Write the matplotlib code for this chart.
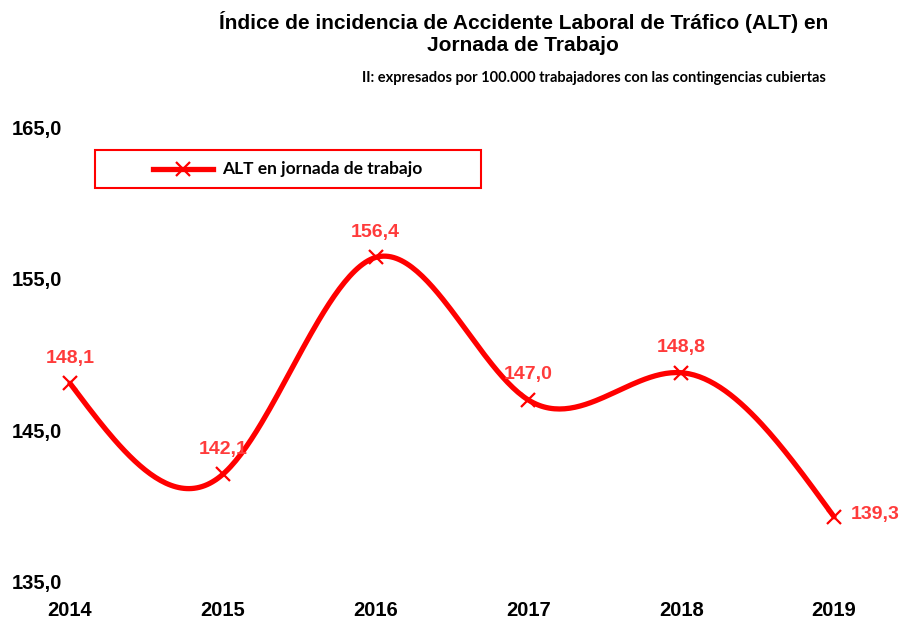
import numpy as np
import matplotlib.pyplot as plt
from matplotlib.lines import Line2D
from matplotlib.patches import Rectangle

years = ['2014', '2015', '2016', '2017', '2018', '2019']
alt = [148.1, 142.1, 156.4, 147.0, 148.8, 139.3]
yticks = [135, 145, 155, 165]

red = '#FF0000'
label_red = '#FF3B3B'


def natural_spline(xs, ys, n=60):
    # natural cubic spline through the points (second derivative 0 at the ends)
    xs = np.asarray(xs, float)
    ys = np.asarray(ys, float)
    k = len(xs)
    h = np.diff(xs)
    A = np.zeros((k, k))
    b = np.zeros(k)
    A[0, 0] = A[-1, -1] = 1
    for i in range(1, k - 1):
        A[i, i - 1] = h[i - 1]
        A[i, i] = 2 * (h[i - 1] + h[i])
        A[i, i + 1] = h[i]
        b[i] = 6 * ((ys[i + 1] - ys[i]) / h[i] - (ys[i] - ys[i - 1]) / h[i - 1])
    M = np.linalg.solve(A, b)
    outx, outy = [], []
    for i in range(k - 1):
        t = np.linspace(0, 1, n)
        a, c = 1 - t, t
        yy = (a * ys[i] + c * ys[i + 1]
              + ((a ** 3 - a) * M[i] + (c ** 3 - c) * M[i + 1]) * h[i] ** 2 / 6)
        outx.extend(xs[i] + t * h[i])
        outy.extend(yy)
    return outx, outy


def fmt(v):
    return f'{v:.1f}'.replace('.', ',')


plt.rcParams['font.family'] = ['Liberation Sans', 'DejaVu Sans']

fig = plt.figure(figsize=(9.02, 6.21), dpi=100)
ax = fig.add_axes([70 / 902, 39 / 621, 764 / 902, 455 / 621])

x = np.arange(len(years))
sx, sy = natural_spline(x, alt)
ax.plot(sx, sy, color=red, lw=3.8, solid_capstyle='round', clip_on=False, zorder=2)
ax.plot(x, alt, ls='none', marker='x', ms=10, mew=1.6, color=red, clip_on=False, zorder=3)

# value labels
for xi, v in zip(x[:-1], alt[:-1]):
    ax.annotate(fmt(v), (xi, v), xytext=(0, 12), textcoords='offset points',
                ha='center', va='bottom', color=label_red, fontsize=14, fontweight='bold')
ax.annotate(fmt(alt[-1]), (x[-1], alt[-1]), xytext=(12, 2), textcoords='offset points',
            ha='left', va='center', color=label_red, fontsize=14, fontweight='bold')

ax.set_xlim(0, 5)
ax.set_ylim(135, 165)
ax.set_yticks(yticks)
ax.set_yticklabels([fmt(v) for v in yticks], fontsize=14.5, fontweight='bold')
ax.set_xticks(x)
ax.set_xticklabels(years, fontsize=14.5, fontweight='bold')
ax.tick_params(axis='both', length=0)
ax.tick_params(axis='y', pad=6)
ax.tick_params(axis='x', pad=14)
for s in ax.spines.values():
    s.set_visible(False)

fig.text(0.58, 0.983, 'Índice de incidencia de Accidente Laboral de Tráfico (ALT) en\nJornada de Trabajo',
         ha='center', va='top', fontsize=15, fontweight='bold', linespacing=1.2)
fig.text(0.916, 0.874, 'II: expresados por 100.000 trabajadores con las contingencias cubiertas',
         ha='right', va='center', fontsize=10.5, fontweight='bold', family=['Lato', 'DejaVu Sans'])

# legend box
fig.add_artist(Rectangle((95 / 902, 1 - 188 / 621), 386 / 902, 38 / 621,
                         transform=fig.transFigure, fill=False, ec=red, lw=1.5))
fig.add_artist(Line2D([153 / 902, 213 / 902], [1 - 169 / 621] * 2, transform=fig.transFigure,
                      color=red, lw=3.8))
fig.add_artist(Line2D([183 / 902], [1 - 169 / 621], transform=fig.transFigure,
                      color=red, marker='x', ms=10, mew=1.6))
fig.text(222 / 902, 1 - 169 / 621, 'ALT en jornada de trabajo', ha='left', va='center',
         fontsize=12.5, fontweight='bold', family=['Lato', 'DejaVu Sans'])

fig.savefig('out.png', dpi=100)
